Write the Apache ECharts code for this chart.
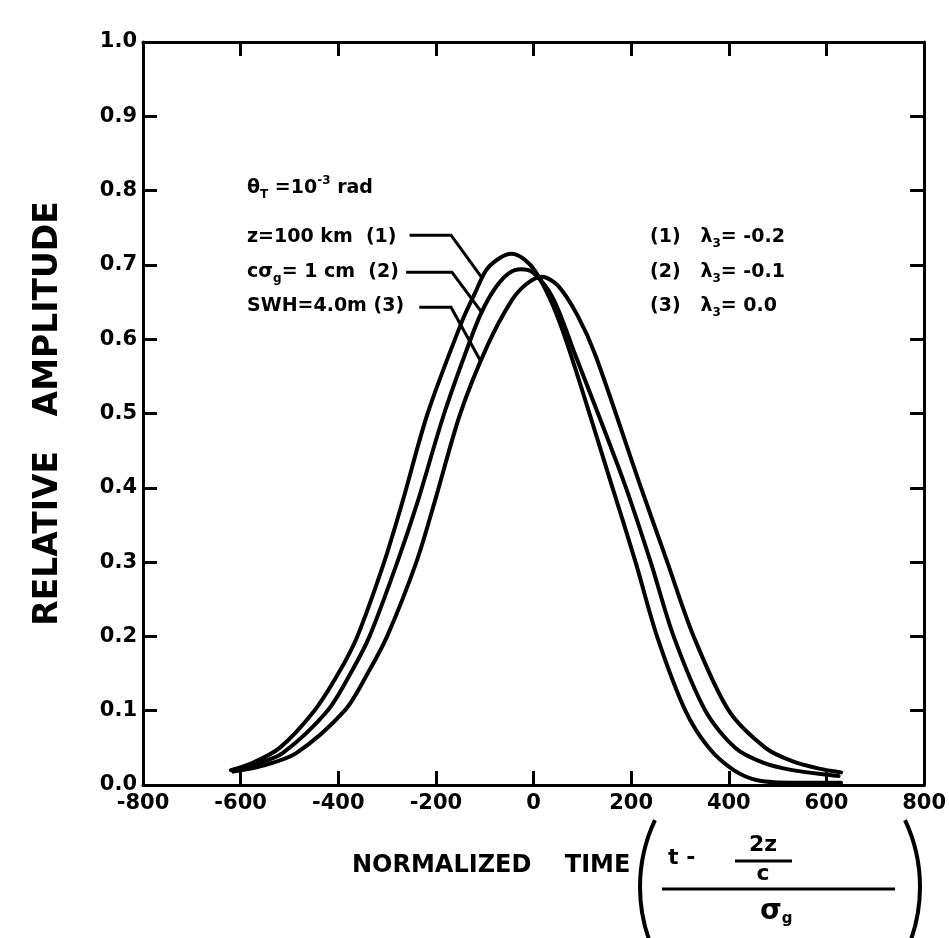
<!DOCTYPE html>
<html>
<head>
<meta charset="utf-8">
<script src="https://cdn.jsdelivr.net/npm/echarts@6.0.0/dist/echarts.min.js"></script>
<style>
html, body { margin: 0; padding: 0; background: #fff; }
#chart { width: 949px; height: 938px; }
</style>
</head>
<body>
<div id="chart"></div>
<script>
// [normalized time, relative amplitude]
var curve1 = [[-620, 0.020], [-575, 0.030], [-520, 0.050], [-449, 0.100], [-400, 0.150], [-361, 0.200],
	[-306, 0.300], [-269, 0.380], [-217, 0.500], [-146, 0.625], [-120, 0.662], [-97, 0.693], [-70, 0.709],
	[-45, 0.715], [-20, 0.708], [5, 0.690], [40, 0.645], [76, 0.580], [158, 0.408], [209, 0.300],
	[253, 0.200], [311, 0.100], [359, 0.050], [410, 0.020], [461, 0.006], [540, 0.003], [630, 0.003]];
var curve2 = [[-617, 0.020], [-570, 0.028], [-514, 0.043], [-422, 0.100], [-375, 0.150], [-336, 0.200],
	[-279, 0.300], [-238, 0.380], [-183, 0.500], [-122, 0.612], [-100, 0.645], [-75, 0.672], [-50, 0.689],
	[-26, 0.694], [0, 0.689], [40, 0.655], [86, 0.578], [185, 0.408], [240, 0.300], [287, 0.200],
	[352, 0.100], [413, 0.050], [470, 0.030], [530, 0.020], [625, 0.012]];
var curve3 = [[-615, 0.018], [-560, 0.025], [-486, 0.043], [-387, 0.100], [-340, 0.150], [-300, 0.200],
	[-240, 0.300], [-203, 0.380], [-150, 0.500], [-94, 0.592], [-45, 0.652], [-15, 0.674], [17, 0.684],
	[50, 0.672], [90, 0.632], [127, 0.578], [216, 0.408], [274, 0.300], [328, 0.200], [400, 0.100],
	[475, 0.050], [530, 0.032], [585, 0.022], [630, 0.017]];
// leader lines from the labels to the curves
var leaders = [
	[[-254, 0.740], [-169, 0.740], [-106, 0.683]],
	[[-261, 0.690], [-167, 0.690], [-106, 0.636]],
	[[-234, 0.643], [-169, 0.643], [-108, 0.570]]
];
var xTicks = { min: -800, max: 800, step: 200 };
var yTicks = { min: 0, max: 1, step: 0.1 };

var FONT = '"DejaVu Sans", sans-serif';
var myChart = echarts.init(document.getElementById('chart'));

function axisBase(t) {
	return {
		type: 'value',
		min: t.min,
		max: t.max,
		interval: t.step,
		axisLine: { show: true, onZero: false, lineStyle: { color: '#000', width: 3 } },
		axisTick: { show: true, inside: true, length: 14, lineStyle: { color: '#000', width: 3 } },
		splitLine: { show: false }
	};
}
var xBottom = axisBase(xTicks);
xBottom.position = 'bottom';
xBottom.axisLabel = { color: '#000', fontSize: 21, fontWeight: 'bold', fontFamily: FONT, margin: 8 };
var xTop = axisBase(xTicks);
xTop.position = 'top';
xTop.axisLabel = { show: false };
var yLeft = axisBase(yTicks);
yLeft.position = 'left';
yLeft.axisLabel = {
	color: '#000', fontSize: 21, fontWeight: 'bold', fontFamily: FONT, margin: 6,
	formatter: function (v) { return v.toFixed(1); }
};
yLeft.name = 'RELATIVE   AMPLITUDE';
yLeft.nameLocation = 'middle';
yLeft.nameGap = 78;
yLeft.nameTextStyle = { color: '#000', fontSize: 33, fontWeight: 'bold', fontFamily: FONT };
var yRight = axisBase(yTicks);
yRight.position = 'right';
yRight.axisLabel = { show: false };

function curveSeries(data) {
	return {
		type: 'line',
		data: data,
		symbol: 'none',
		smooth: 0.3,
		lineStyle: { color: '#000', width: 4, cap: 'round' },
		silent: true
	};
}

function label(x, y, text, size) {
	return {
		type: 'text', x: x, y: y, silent: true,
		style: {
			text: text, fill: '#000', font: 'bold ' + (size || 19) + 'px ' + FONT, verticalAlign: 'middle',
			rich: {
				n: { fontSize: size || 19, fontWeight: 'bold', fontFamily: FONT, lineHeight: 26 },
				s: { fontSize: 12, fontWeight: 'bold', fontFamily: FONT, verticalAlign: 'bottom', lineHeight: 26 },
				u: { fontSize: 12, fontWeight: 'bold', fontFamily: FONT, verticalAlign: 'top', lineHeight: 26 }
			}
		}
	};
}

var option = {
	animation: false,
	backgroundColor: '#fff',
	grid: { left: 143, right: 23, top: 42, bottom: 153, containLabel: false },
	xAxis: [xBottom, xTop],
	yAxis: [yLeft, yRight],
	series: [
		curveSeries(curve1),
		curveSeries(curve2),
		curveSeries(curve3),
		{
			type: 'lines',
			coordinateSystem: 'cartesian2d',
			polyline: true,
			symbol: ['none', 'arrow'],
			symbolSize: 10,
			lineStyle: { color: '#000', width: 3, opacity: 1, curveness: 0 },
			data: leaders.map(function (c) { return { coords: c }; }),
			silent: true,
			z: 3
		}
	],
	graphic: [
		label(247, 188, '{n|θ}{s|T}{n| =10}{u|-3}{n| rad}'),
		label(247, 237, '{n|z=100 km  (1)}'),
		label(247, 272, '{n|cσ}{s|g}{n|= 1 cm  (2)}'),
		label(247, 306, '{n|SWH=4.0m (3)}'),
		label(650, 237, '{n|(1)   λ}{s|3}{n|= -0.2}'),
		label(650, 272, '{n|(2)   λ}{s|3}{n|= -0.1}'),
		label(650, 306, '{n|(3)   λ}{s|3}{n|= 0.0}'),
		{ type: 'text', x: 352, y: 866, silent: true,
			style: { text: 'NORMALIZED    TIME', fill: '#000', font: 'bold 24px ' + FONT, verticalAlign: 'middle' } },
		{ type: 'arc', silent: true,
			shape: { cx: 797, cy: 887, r: 157, startAngle: Math.PI - 0.44, endAngle: Math.PI + 0.44, clockwise: true },
			style: { stroke: '#000', lineWidth: 4, fill: null } },
		{ type: 'arc', silent: true,
			shape: { cx: 763, cy: 887, r: 157, startAngle: -0.44, endAngle: 0.44, clockwise: true },
			style: { stroke: '#000', lineWidth: 4, fill: null } },
		{ type: 'text', x: 668, y: 858, silent: true,
			style: { text: 't -', fill: '#000', font: 'bold 22px ' + FONT, verticalAlign: 'middle' } },
		{ type: 'text', x: 763, y: 845, silent: true,
			style: { text: '2z', fill: '#000', font: 'bold 22px ' + FONT, align: 'center', verticalAlign: 'middle' } },
		{ type: 'line', silent: true, shape: { x1: 735, y1: 861, x2: 792, y2: 861 }, style: { stroke: '#000', lineWidth: 3 } },
		{ type: 'text', x: 763, y: 874, silent: true,
			style: { text: 'c', fill: '#000', font: 'bold 22px ' + FONT, align: 'center', verticalAlign: 'middle' } },
		{ type: 'line', silent: true, shape: { x1: 662, y1: 889, x2: 895, y2: 889 }, style: { stroke: '#000', lineWidth: 3 } },
		label(760, 912, '{b|σ}{s|g}', 26)
	]
};
option.graphic[option.graphic.length - 1].style.rich.b = { fontSize: 28, fontWeight: 'bold', fontFamily: FONT, lineHeight: 30 };
option.graphic[option.graphic.length - 1].style.rich.s = { fontSize: 15, fontWeight: 'bold', fontFamily: FONT, verticalAlign: 'bottom', lineHeight: 30 };

myChart.setOption(option);
window.addEventListener('resize', function () {
	myChart.resize();
}, false);
</script>
</body>
</html>
